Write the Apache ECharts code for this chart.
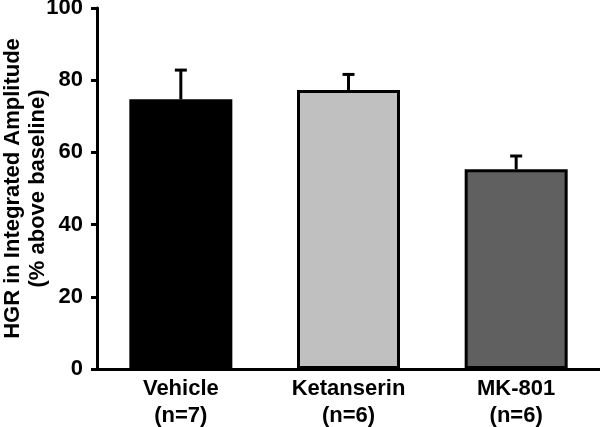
<!DOCTYPE html>
<html>
<head>
<meta charset="utf-8">
<script src="https://cdn.jsdelivr.net/npm/echarts@6/dist/echarts.min.js"></script>
<style>
  html, body { margin: 0; padding: 0; background: #fff; }
  #main { width: 600px; height: 427px; }
</style>
</head>
<body>
<div id="main"></div>
<script>
var groups = ['Vehicle\n(n=7)', 'Ketanserin\n(n=6)', 'MK-801\n(n=6)'];
var means = [74.7, 77.3, 55.3];
var sems = [8.1, 4.3, 3.7];
var barColors = ['#000000', '#c0c0c0', '#606060'];
var yTicks = [0, 20, 40, 60, 80, 100];

var myChart = echarts.init(document.getElementById('main'));
var font = 'Liberation Sans, Arial, sans-serif';

var option = {
  animation: false,
  backgroundColor: '#fff',
  grid: { left: 97, right: 0, top: 8, bottom: 58, containLabel: false, outerBoundsMode: 'none' },
  xAxis: {
    type: 'category',
    data: groups,
    axisLine: { lineStyle: { color: '#000', width: 3 } },
    axisTick: { show: false },
    axisLabel: {
      color: '#000', fontFamily: font, fontWeight: 'bold', fontSize: 22,
      lineHeight: 27, margin: 6
    }
  },
  yAxis: {
    type: 'value',
    min: yTicks[0],
    max: yTicks[yTicks.length - 1],
    interval: 20,
    name: 'HGR in Integrated Amplitude\n(% above baseline)',
    nameLocation: 'middle',
    nameGap: 47,
    nameMoveOverlap: false,
    nameTextStyle: {
      color: '#000', fontFamily: font, fontWeight: 'bold', fontSize: 22, lineHeight: 25
    },
    axisLine: { show: true, lineStyle: { color: '#000', width: 3 } },
    axisTick: { show: true, length: 6, lineStyle: { color: '#000', width: 3 } },
    axisLabel: { color: '#000', fontFamily: font, fontWeight: 'bold', fontSize: 22, margin: 14 },
    splitLine: { show: false }
  },
  series: [
    {
      type: 'bar',
      barWidth: 103,
      data: means.map(function (v, i) {
        return {
          value: v,
          itemStyle: { color: barColors[i], borderColor: '#000', borderWidth: 3 }
        };
      })
    },
    {
      type: 'custom',
      z: 1,
      data: means.map(function (v, i) { return [i, v, v + sems[i]]; }),
      renderItem: function (params, api) {
        var base = api.coord([api.value(0), api.value(1)]);
        var top = api.coord([api.value(0), api.value(2)]);
        var x = base[0];
        return {
          type: 'group',
          children: [
            { type: 'line', shape: { x1: x, y1: base[1], x2: x, y2: top[1] },
              style: { stroke: '#000', lineWidth: 3 } },
            { type: 'line', shape: { x1: x - 6, y1: top[1], x2: x + 6, y2: top[1] },
              style: { stroke: '#000', lineWidth: 3 } }
          ]
        };
      }
    }
  ]
};

myChart.setOption(option);
window.onresize = myChart.resize;
</script>
</body>
</html>
